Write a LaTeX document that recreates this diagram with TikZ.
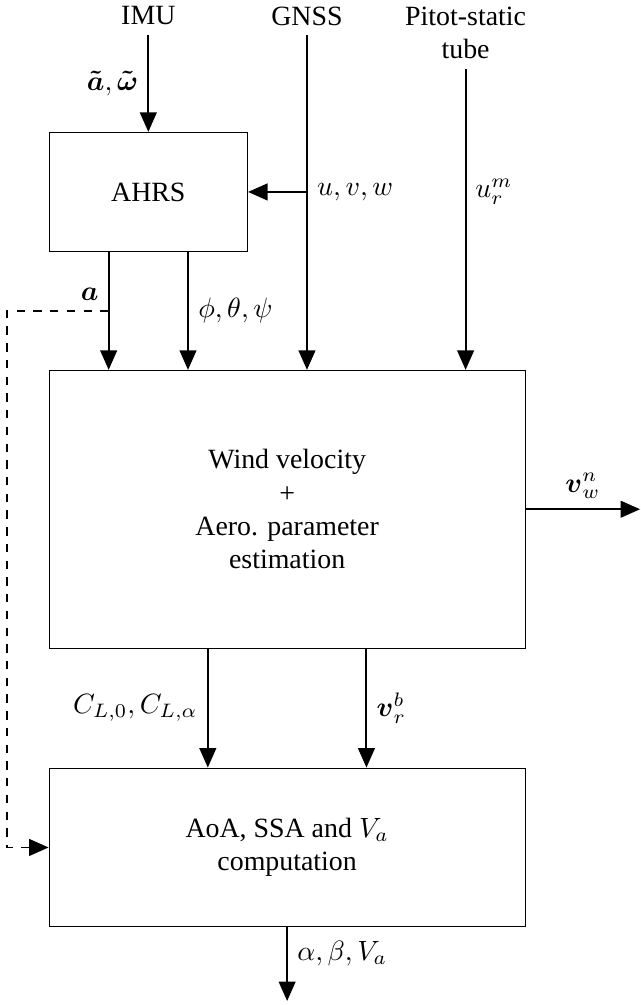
\documentclass[tikz,border=0pt]{standalone}
\usepackage{amsmath,amssymb}
\usepackage{fontspec}
\setmainfont{Liberation Serif}
\usetikzlibrary{arrows.meta, positioning, calc}

\begin{document}
\begin{tikzpicture}[
        block/.style={draw, line width=0.4pt, align=center},
        sig/.style={-{Triangle[length=7pt, width=6pt]}, line width=0.7pt},
        src/.style={anchor=north, align=center}
    ]
    \useasboundingbox (-3.62,-6.25) rectangle (4.46,6.42);

    % The Boxes
    \node[block, minimum width=6cm, minimum height=3.5cm] (est) at (0,0) {Wind velocity\\+\\Aero. parameter\\estimation};
    \node[block, minimum width=2.5cm, minimum height=1.5cm] (ahrs) at (-1.75,4) {AHRS};
    \node[block, minimum width=6cm, minimum height=2cm, below=1.5cm of est] (comp) {AoA, SSA and $V_a$\\computation};

    % Sensors
    \node[src] (imu) at (-1.75,6.46) {IMU};
    \node[src] (gnss) at (0.25,6.46) {GNSS};
    \node[src] (pitot) at (2.25,6.46) {Pitot-static\\tube};

    % Signals in
    \draw[sig] (imu) -- (ahrs) node[midway, left] (l-acc) {$\boldsymbol{\tilde{a}}, \boldsymbol{\tilde{\omega}}$};
    \draw[sig] (gnss) -- (gnss |- est.north);
    \draw[sig] (gnss |- ahrs) node[right] (l-uvw) {$u,v,w$} -- (ahrs);
    \draw[sig] (pitot) -- (pitot |- est.north);
    \node[right] (l-ur) at (pitot |- ahrs) {$u_r^m$};

    % AHRS out
    \draw[sig] ([xshift=-5mm]ahrs.south) -- ([xshift=-5mm]ahrs.south |- est.north);
    \draw[sig] ([xshift=5mm]ahrs.south) -- ([xshift=5mm]ahrs.south |- est.north) node[midway, right] (l-att) {$\phi,\theta,\psi$};

    % Estimation out
    \draw[sig] ([xshift=-1cm]est.south) -- ([xshift=-1cm]comp.north) node[midway, left] (l-cl) {$C_{L,0}, C_{L,\alpha}$};
    \draw[sig] ([xshift=1cm]est.south) -- ([xshift=1cm]comp.north) node[midway, right] (l-vr) {$\boldsymbol{v}_r^b$};
    \coordinate (wind) at (4.45,0);
    \draw[sig] (est) -- (wind) node[midway, above] (l-vw) {$\boldsymbol{v}_w^n$};
    \coordinate (air) at (0,-6.2);
    \draw[sig] (comp) -- (air) node[pos=0.35, right] (l-air) {$\alpha, \beta, V_a$};

    % Feedback of a
    \coordinate (tap) at ($([xshift=-5mm]ahrs.south)!0.5!([xshift=-5mm]ahrs.south |- est.north)$);
    \coordinate (side) at (-3.53,0);
    \draw[sig, dashed] (tap) node[above left] (l-a) {$\boldsymbol{a}$} -- (tap -| side) |- (comp.west);

\end{tikzpicture}
\end{document}
